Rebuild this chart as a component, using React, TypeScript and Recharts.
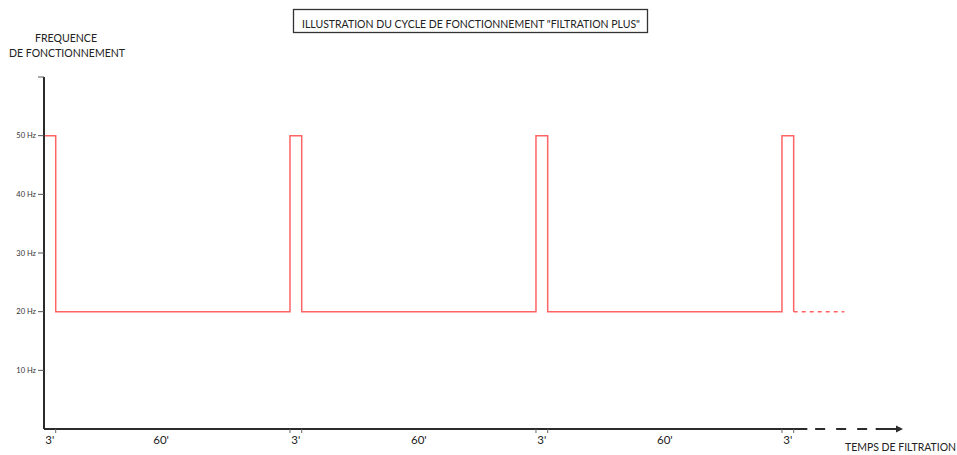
import React from 'react';
import { LineChart, Line, XAxis, YAxis, ReferenceLine } from 'recharts';

// Operating cycle: time (minutes) vs frequency (Hz)
const timeMinutes = [0, 3, 63, 66, 126, 129, 189, 192];
const frequencyHz = [50, 20, 50, 20, 50, 20, 50, 20];
// continuation (dashed) after the last pulse
const tailTime = [192, 205];
const tailFreq = [20, 20];

const yTicks = [10, 20, 30, 40, 50, 60];
const yTickLabels = ['10 Hz', '20 Hz', '30 Hz', '40 Hz', '50 Hz', ''];

const xBoundaryTicks = [3, 63, 66, 126, 129, 189, 192];
const xLabelTicks = [1.5, 30, 64.5, 96, 127.5, 159, 190.5];
const xLabelTexts = ["3'", "60'", "3'", "60'", "3'", "60'", "3'"];

// axis decoration extents (minutes)
const X_MAX = 220;
const axisSolid = [0, 195.5];
const axisDashed = [197.5, 211];
const axisArrow = [213, X_MAX];

const mainData = timeMinutes.map((t, i) => ({ t, f: frequencyHz[i] }));
const tailData = tailTime.map((t, i) => ({ t, f: tailFreq[i] }));

const FONT = 'Lato, "Open Sans", sans-serif';
const RED = '#ff6464';
const AXIS = '#2b2b2b';

const XTick = (props: any) => {
  const { x, payload } = props;
  const y = 429;
  const v = payload.value;
  const bi = xBoundaryTicks.indexOf(v);
  if (bi >= 0) {
    return <line x1={x} y1={y} x2={x} y2={y + 4} stroke="#666" strokeWidth={1} />;
  }
  const li = xLabelTicks.indexOf(v);
  if (li >= 0) {
    return (
      <text x={x} y={y + 15} textAnchor="middle" fontSize={11.5} fontFamily={FONT} fill="#222">
        {xLabelTexts[li]}
      </text>
    );
  }
  return null;
};

const ArrowShape = (props: any) => {
  const { x1, y1, x2, y2 } = props;
  return (
    <g>
      <line x1={x1} y1={y1} x2={x2 - 4} y2={y2} stroke={AXIS} strokeWidth={2} />
      <polygon points={`${x2},${y2} ${x2 - 7},${y2 - 3.5} ${x2 - 7},${y2 + 3.5}`} fill={AXIS} />
    </g>
  );
};

export default function App() {
  return (
    <div style={{ position: 'absolute', left: 0, top: 0, width: 957, height: 455, background: '#fff' }}>
      <LineChart
        width={957}
        height={455}
        margin={{ top: 77, right: 54, bottom: 6, left: 4 }}
      >
        <XAxis
          dataKey="t"
          type="number"
          domain={[0, X_MAX]}
          ticks={[...xBoundaryTicks, ...xLabelTicks].sort((a, b) => a - b)}
          interval={0}
          axisLine={false}
          tickLine={false}
          tickSize={0}
          tickMargin={0}
          height={20}
          tick={<XTick />}
          allowDataOverflow
        />
        <YAxis
          type="number"
          domain={[0, 60]}
          ticks={yTicks}
          interval={0}
          width={40}
          axisLine={{ stroke: AXIS, strokeWidth: 2 }}
          tickLine={{ stroke: '#555', strokeWidth: 1 }}
          tickSize={6}
          tickMargin={2}
          tick={{ fontSize: 7.5, fill: '#333', fontFamily: FONT }}
          tickFormatter={(v: number) => yTickLabels[yTicks.indexOf(v)] ?? ''}
        />
        <ReferenceLine
          segment={[{ x: axisSolid[0], y: 0 }, { x: axisSolid[1], y: 0 }]}
          stroke={AXIS}
          strokeWidth={2}
          ifOverflow="visible"
        />
        <ReferenceLine
          segment={[{ x: axisDashed[0], y: 0 }, { x: axisDashed[1], y: 0 }]}
          stroke={AXIS}
          strokeWidth={2}
          strokeDasharray="10 11"
          ifOverflow="visible"
        />
        <ReferenceLine
          segment={[{ x: axisArrow[0], y: 0 }, { x: axisArrow[1], y: 0 }]}
          ifOverflow="visible"
          shape={<ArrowShape />}
        />
        <Line
          data={mainData}
          dataKey="f"
          type="stepAfter"
          stroke={RED}
          strokeWidth={1.5}
          dot={false}
          activeDot={false}
          isAnimationActive={false}
        />
        <Line
          data={tailData}
          dataKey="f"
          type="linear"
          stroke={RED}
          strokeWidth={1.5}
          strokeDasharray="4 4"
          dot={false}
          activeDot={false}
          isAnimationActive={false}
        />
      </LineChart>
      <svg
        width={957}
        height={455}
        style={{ position: 'absolute', left: 0, top: 0, pointerEvents: 'none' }}
      >
        <rect x={293.5} y={9.5} width={354} height={23} fill="none" stroke="#333" strokeWidth={1.3} />
        <text
          x={471}
          y={27.5}
          textAnchor="middle"
          fontSize={10.5}
          fontFamily={FONT}
          fill="#222"
          textLength={338}
          lengthAdjust="spacingAndGlyphs"
        >
          ILLUSTRATION DU CYCLE DE FONCTIONNEMENT "FILTRATION PLUS"
        </text>
        <text
          x={66}
          y={42}
          textAnchor="middle"
          fontSize={11}
          fontFamily={FONT}
          fill="#222"
          textLength={62}
          lengthAdjust="spacingAndGlyphs"
        >
          FREQUENCE
        </text>
        <text
          x={67}
          y={57}
          textAnchor="middle"
          fontSize={11}
          fontFamily={FONT}
          fill="#222"
          textLength={116}
          lengthAdjust="spacingAndGlyphs"
        >
          DE FONCTIONNEMENT
        </text>
        <text
          x={845}
          y={451}
          textAnchor="start"
          fontSize={10.5}
          fontFamily={FONT}
          fill="#222"
          textLength={111}
          lengthAdjust="spacingAndGlyphs"
        >
          TEMPS DE FILTRATION
        </text>
      </svg>
    </div>
  );
}
